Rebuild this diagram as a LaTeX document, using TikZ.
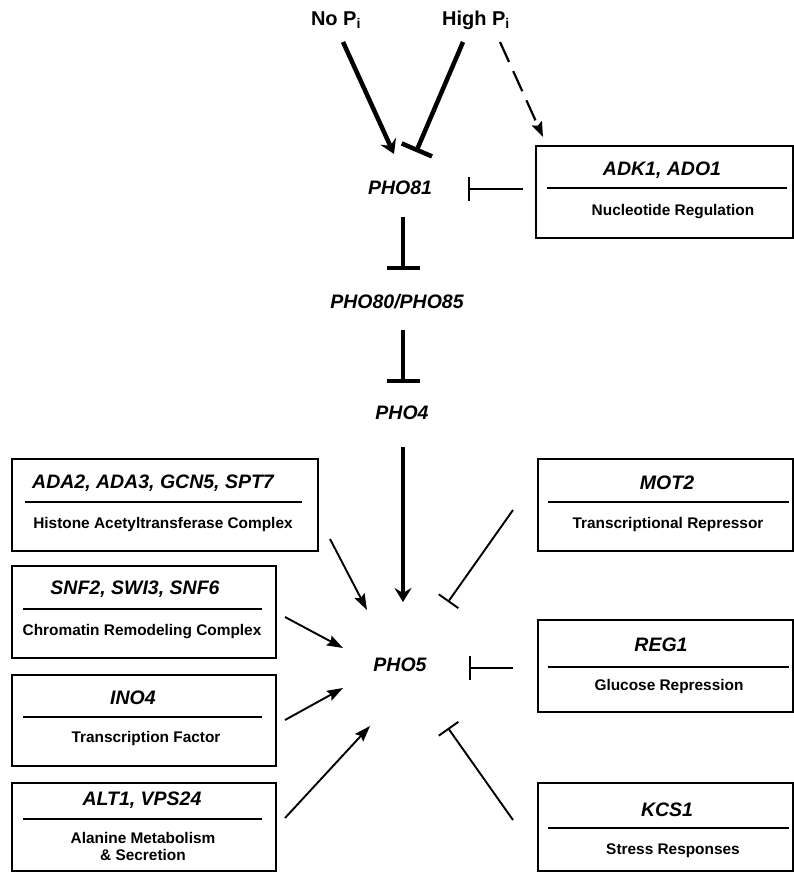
\documentclass[tikz,border=0pt]{standalone}
\usepackage{fontspec}
\setmainfont{Liberation Sans}
\usetikzlibrary{arrows.meta}
\begin{document}
\begin{tikzpicture}[x=1pt,y=-1pt,
 gene/.style={font=\fontsize{19.5}{20}\selectfont\bfseries\itshape, inner sep=0pt},
 desc/.style={font=\fontsize{15.4}{18}\selectfont\bfseries, inner sep=0pt, align=center},
 lbl/.style={font=\fontsize{20}{22}\selectfont\bfseries, inner sep=0pt},
 box/.style={draw, line width=2.2pt, inner sep=0pt},
 sep/.style={line width=1.7pt},
 thickact/.style={line width=4.5pt, -{Stealth[length=14pt,width=17pt,inset=5pt]}},
 thickinh/.style={line width=4.5pt, -{Bar[width=33pt]}},
 act/.style={line width=1.9pt, -{Stealth[length=16pt,width=11pt,inset=2.5pt]}},
 inh/.style={line width=1.9pt, -{Bar[width=24pt]}},
 dsh/.style={line width=2.2pt, dash pattern=on 22pt off 10pt, -{Stealth[length=15pt,width=11pt,inset=2.5pt]}},
]
\useasboundingbox (0,0) rectangle (794,872);

% top labels
\node[lbl] (nopi) at (336,20) {No P\textsubscript{i}};
\node[lbl] (hipi) at (476,20) {High P\textsubscript{i}};

% pathway genes
\node[gene] (pho81) at (400,188) {PHO81};
\node[gene] (pho80) at (397,302) {PHO80/PHO85};
\node[gene] (pho4) at (402,413) {PHO4};
\node[gene] (pho5) at (400,665) {PHO5};

% ADK box
\node[box, minimum width=257pt, minimum height=92pt, anchor=north west] (adk) at (535,145) {};
\node[gene] (adkt) at (662,170) {ADK1, ADO1};
\draw[sep] (547,188) -- (787,188);
\node[desc] (adkd) at (673,212) {Nucleotide Regulation};

% left boxes
\node[box, minimum width=306pt, minimum height=92pt, anchor=north west] (hat) at (11,458) {};
\node[gene] (hatt) at (153,483) {ADA2, ADA3, GCN5, SPT7};
\draw[sep] (25,502) -- (302,502);
\node[desc] (hatd) at (163,525) {Histone Acetyltransferase Complex};

\node[box, minimum width=264pt, minimum height=92pt, anchor=north west] (snf) at (11,565) {};
\node[gene] (snft) at (135,589) {SNF2, SWI3, SNF6};
\draw[sep] (23,609) -- (262,609);
\node[desc] (snfd) at (142,632) {Chromatin Remodeling Complex};

\node[box, minimum width=264pt, minimum height=91pt, anchor=north west] (ino) at (11,674) {};
\node[gene] (inot) at (133,698) {INO4};
\draw[sep] (23,717) -- (262,717);
\node[desc] (inod) at (146,739) {Transcription Factor};

\node[box, minimum width=264pt, minimum height=88pt, anchor=north west] (alt) at (11,782) {};
\node[gene] (altt) at (142,800) {ALT1, VPS24};
\draw[sep] (23,819) -- (262,819);
\node[desc] (altd) at (143,846) {Alanine Metabolism\\[-1pt]\& Secretion};

% right boxes
\node[box, minimum width=255pt, minimum height=92pt, anchor=north west] (mot) at (537,458) {};
\node[gene] (mott) at (667,483) {MOT2};
\draw[sep] (548,502) -- (789,502);
\node[desc] (motd) at (668,525) {Transcriptional Repressor};

\node[box, minimum width=255pt, minimum height=92pt, anchor=north west] (reg) at (537,619) {};
\node[gene] (regt) at (661,645) {REG1};
\draw[sep] (548,667) -- (789,667);
\node[desc] (regd) at (669,687) {Glucose Repression};

\node[box, minimum width=255pt, minimum height=88pt, anchor=north west] (kcs) at (537,782) {};
\node[gene] (kcst) at (667,810) {KCS1};
\draw[sep] (548,828) -- (789,828);
\node[desc] (kcsd) at (673,851) {Stress Responses};

% connector end points
\coordinate (c1s) at (343,42);  \coordinate (c1e) at (394,154);
\coordinate (c2s) at (463,42);  \coordinate (c2e) at (416,152);
\coordinate (c3s) at (500,42);  \coordinate (c3e) at (543,137);
\coordinate (c4s) at (523,189); \coordinate (c4e) at (468,189);
\coordinate (c5s) at (403,217); \coordinate (c5e) at (403,270);
\coordinate (c6s) at (403,330); \coordinate (c6e) at (403,383);
\coordinate (c7s) at (403,447); \coordinate (c7e) at (403,602);
\coordinate (l1s) at (330,539); \coordinate (l1e) at (367,610);
\coordinate (l2s) at (285,617); \coordinate (l2e) at (343,648);
\coordinate (l3s) at (285,720); \coordinate (l3e) at (343,688);
\coordinate (l4s) at (285,818); \coordinate (l4e) at (370,726);
\coordinate (r1s) at (513,510); \coordinate (r1e) at (448,602);
\coordinate (r2s) at (513,668); \coordinate (r2e) at (469,668);
\coordinate (r3s) at (513,820); \coordinate (r3e) at (448,728);

\draw[thickact] (c1s) -- (c1e);
\draw[thickinh] (c2s) -- (c2e);
\draw[dsh] (c3s) -- (c3e);
\draw[inh] (c4s) -- (c4e);
\draw[thickinh] (c5s) -- (c5e);
\draw[thickinh] (c6s) -- (c6e);
\draw[thickact] (c7s) -- (c7e);
\draw[act] (l1s) -- (l1e);
\draw[act] (l2s) -- (l2e);
\draw[act] (l3s) -- (l3e);
\draw[act] (l4s) -- (l4e);
\draw[inh] (r1s) -- (r1e);
\draw[inh] (r2s) -- (r2e);
\draw[inh] (r3s) -- (r3e);
\end{tikzpicture}
\end{document}
